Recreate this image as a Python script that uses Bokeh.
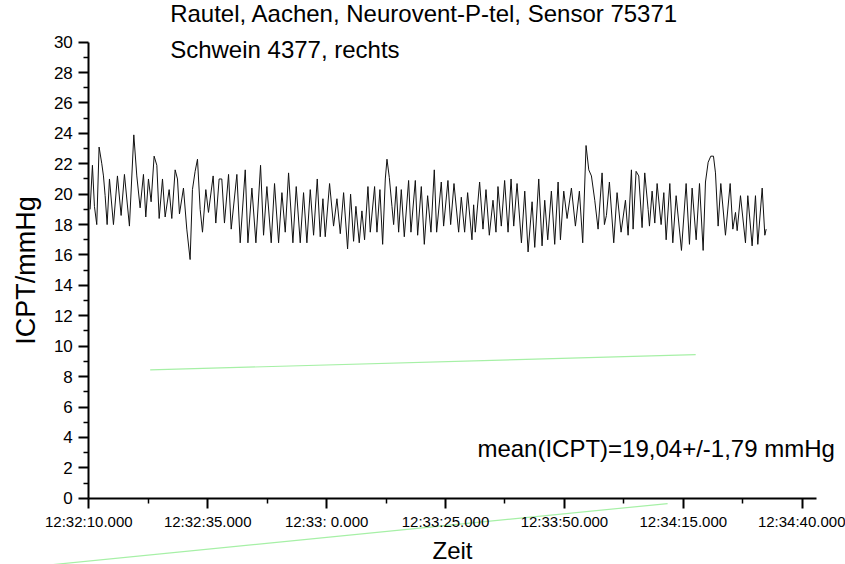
from bokeh.plotting import figure
from bokeh.models import FixedTicker, Label, Range1d
from bokeh.embed import file_html
from bokeh.resources import INLINE

# ---- data: seconds after 12:32:10.000 and ICPT in mmHg ----
time_s = [
    0.27, 0.76, 1.18, 1.67, 2.16, 2.73, 3.08, 3.43, 3.85, 4.34, 5.18, 6.02, 6.79, 7.49, 8.54, 9.46,
    10.09, 10.79, 11.49, 11.98, 12.54, 13.10, 13.73, 14.30, 14.79, 15.49, 16.05, 16.89, 17.45, 18.15,
    18.64, 19.06, 19.90, 20.60, 21.30, 21.79, 22.35, 22.85, 23.41, 23.90, 24.60, 25.16, 26.14, 26.70,
    27.40, 27.96, 28.52,
    29.38, 29.94, 31.13, 31.83, 32.89, 33.45, 34.29, 35.13, 36.11, 36.74, 37.44, 38.35, 39.05, 39.90,
    40.60, 41.30, 42.00, 42.91, 43.61, 44.45, 45.15, 45.85, 46.56, 47.26, 48.03, 48.66, 49.22, 49.71,
    50.62, 51.46, 52.17, 52.87, 53.57, 54.41, 55.04, 55.67, 56.16, 56.86, 57.42, 57.98,
    58.69, 59.18, 60.09, 60.58, 61.21, 61.78, 62.34, 62.69, 63.18, 63.74, 64.09, 64.65, 65.14, 65.70,
    66.33, 67.24, 67.73, 68.65, 69.14, 69.91, 70.54, 71.24, 71.94, 72.64, 73.13, 74.11, 74.60, 75.51,
    76.08, 76.78, 77.76, 78.32, 79.02, 79.65, 80.56, 80.91, 81.26, 82.17, 82.88, 83.51, 84.21, 84.98,
    85.61, 86.03, 86.73, 87.43,
    88.15, 88.78, 89.34, 90.04, 90.96, 91.66, 92.36, 93.20, 93.76, 94.60, 95.30, 95.86, 96.49, 97.26,
    97.96, 98.67, 99.16, 99.86, 100.56, 101.47, 102.31, 103.15, 103.85, 104.55, 105.12, 105.68, 106.38,
    107.08, 107.92, 108.41, 108.83, 109.46, 110.37, 111.07, 111.91, 112.83, 113.39, 114.09, 114.44,
    115.07, 115.63, 116.33, 116.89,
    117.60, 117.88, 118.44, 119.00, 119.49, 120.33, 120.90, 121.39, 122.16, 122.79, 123.49, 124.61,
    125.59, 126.29, 126.85, 127.70, 128.40, 129.17, 129.66, 130.22, 130.78, 131.34, 131.76, 132.32,
    132.88, 133.86, 134.85, 135.41, 135.97, 136.32, 137.02, 138.07, 138.56, 139.47, 140.17, 140.66,
    141.58, 142.14, 142.42,
]
icpt_mmhg = [
    19.0, 21.9, 19.2, 18.0, 23.1, 22.0, 21.2, 19.9, 18.0, 21.0, 18.0, 21.2, 18.6, 21.3, 17.9, 23.9,
    21.2, 19.1, 21.3, 18.5, 21.0, 19.5, 22.5, 21.9, 18.4, 21.0, 18.5, 20.3, 18.4, 21.6,
    21.0, 18.7, 20.4, 17.7, 15.7, 20.3, 21.5, 22.3, 19.0, 17.5, 20.3, 18.8, 21.2, 18.1,
    21.0, 21.0, 18.1,
    21.3, 17.7, 21.3, 16.8, 21.6, 16.8, 20.4, 16.8, 21.9, 17.3, 20.5, 16.8, 20.7, 16.8,
    20.1, 17.5, 21.4, 16.8, 20.5, 16.8, 20.1, 16.8, 20.3, 17.3, 21.0, 17.2, 19.7, 17.2,
    20.7, 17.9, 19.7, 17.4, 20.1, 16.4, 20.0, 16.9, 19.2, 16.8, 18.9, 17.0,
    20.5, 17.5, 20.5, 17.5, 20.3, 16.7, 21.0, 22.3, 21.1, 19.2, 18.0, 20.5, 17.5, 20.3,
    17.2, 20.9, 17.5, 20.9, 17.3, 20.5, 16.7, 19.9, 17.5, 21.6, 17.5, 20.8, 17.9, 20.9,
    18.0, 20.7, 17.5, 19.8, 17.5, 20.1, 17.0, 19.3, 17.5, 20.8, 17.7, 20.3, 17.3, 19.6,
    17.5, 20.5, 17.9, 20.9,
    17.5, 21.0, 17.9, 20.7, 16.8, 20.2, 16.2, 19.5, 16.5, 21.0, 16.6, 19.6, 17.0, 20.2,
    16.7, 20.8, 17.0, 20.2, 18.4, 20.4, 17.9, 20.2, 16.8, 23.2, 21.6, 21.2, 19.6,
    17.7, 21.4, 18.0, 18.6, 20.8, 16.8, 20.1, 17.5, 19.6, 17.3, 21.6, 17.7,
    21.5, 21.2, 17.8, 21.4,
    19.0, 17.9, 20.2, 18.1, 20.7, 18.0, 20.1, 17.0, 20.7, 16.8, 19.9, 16.3,
    20.7, 16.7, 20.4, 17.0, 20.7, 16.3, 20.8, 22.1, 22.5, 22.5, 21.4, 17.9,
    20.7, 17.3, 20.7, 17.7, 18.8, 17.6, 19.9, 16.8, 19.9, 16.6, 19.9, 16.7,
    20.4, 17.3, 17.7,
]

# faint green stray lines seen in the reference
green_a_t = [12.9, 127.6]
green_a_v = [8.44, 9.44]
green_b_t = [-10.2, 121.7]
green_b_v = [-4.45, -0.35]

x_tick_pos = [0, 25, 50, 75, 100, 125, 150]
x_tick_labels = ["12:32:10.000", "12:32:35.000", "12:33: 0.000", "12:33:25.000",
                 "12:33:50.000", "12:34:15.000", "12:34:40.000"]
x_minor_pos = [12.5, 37.5, 62.5, 87.5, 112.5, 137.5]
y_tick_pos = list(range(0, 31, 2))
y_minor_pos = list(range(1, 30, 2))

title_lines = ["Rautel, Aachen, Neurovent-P-tel, Sensor 75371", "Schwein 4377, rechts"]
mean_text = "mean(ICPT)=19,04+/-1,79 mmHg"

FONT = "Liberation Sans"

# the frame covers the whole canvas; both axes sit at fixed data locations
p = figure(width=845, height=564, output_backend="svg", toolbar_location=None,
           x_range=Range1d(-18.57, 159.1), y_range=Range1d(-4.36, 32.74),
           min_border_left=0, min_border_right=0, min_border_top=0, min_border_bottom=0)
p.outline_line_color = None
p.grid.visible = False
p.background_fill_color = "white"
p.border_fill_color = "white"

p.xaxis.axis_label = "Zeit"
p.yaxis.axis_label = "ICPT/mmHg"
p.xaxis.fixed_location = 0
p.yaxis.fixed_location = 0
p.xaxis.bounds = (0, 153.0)
p.yaxis.bounds = (0, 30)
p.xaxis.ticker = FixedTicker(ticks=x_tick_pos, minor_ticks=x_minor_pos)
p.xaxis.major_label_overrides = {k: v for k, v in zip(x_tick_pos, x_tick_labels)}
p.yaxis.ticker = FixedTicker(ticks=y_tick_pos, minor_ticks=y_minor_pos)

for ax in (p.xaxis[0], p.yaxis[0]):
    ax.axis_line_width = 2
    ax.axis_line_color = "black"
    ax.major_tick_line_width = 2
    ax.major_tick_line_color = "black"
    ax.minor_tick_line_width = 1.5
    ax.minor_tick_line_color = "black"
    ax.major_tick_out = 10
    ax.major_tick_in = 0
    ax.minor_tick_out = 5
    ax.minor_tick_in = 0
    ax.major_label_text_font = FONT
    ax.major_label_text_color = "black"
    ax.axis_label_text_font = FONT
    ax.axis_label_text_font_style = "normal"
    ax.axis_label_text_color = "black"
p.xaxis.major_label_standoff = 5
p.yaxis.major_label_standoff = 6
p.xaxis.major_label_text_font_size = "15px"
p.yaxis.major_label_text_font_size = "17px"
p.xaxis.axis_label_text_font_size = "24px"
p.yaxis.axis_label_text_font_size = "27px"
p.xaxis.axis_label_standoff = 3
p.yaxis.axis_label_standoff = 10
p.yaxis.major_label_orientation = "horizontal"

p.line(green_a_t, green_a_v, line_color="#a6f0a6", line_width=1.2)
p.line(green_b_t, green_b_v, line_color="#a6f0a6", line_width=1.2)

p.line(time_s, icpt_mmhg, line_color="#111111", line_width=1)

p.add_layout(Label(x=17.1, y=31.9, text=title_lines[0], text_font=FONT,
                   text_font_size="24px", text_baseline="middle", text_color="black"))
p.add_layout(Label(x=17.1, y=29.5, text=title_lines[1], text_font=FONT,
                   text_font_size="24px", text_baseline="middle", text_color="black"))
p.add_layout(Label(x=81.7, y=3.25, text=mean_text, text_font=FONT,
                   text_font_size="24px", text_baseline="middle", text_color="black"))

open("out.html", "w").write(file_html(p, INLINE))
